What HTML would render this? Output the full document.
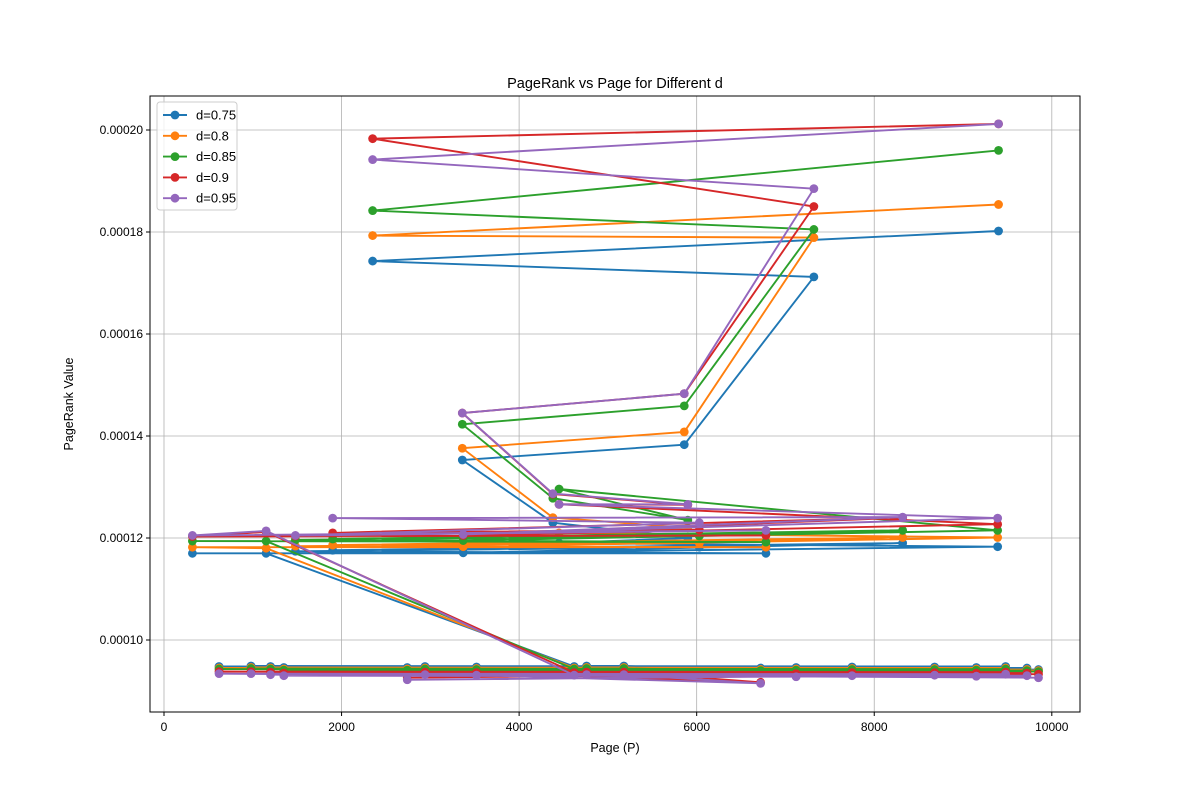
<!DOCTYPE html>
<html><head><meta charset="utf-8"><style>
body{margin:0;background:#fff}
svg{font-family:"Liberation Sans","DejaVu Sans",sans-serif}
</style></head><body>
<svg id="chart" width="1200" height="800">
<rect width="1200" height="800" fill="#fff"/>
<g id="grid"></g>
<g id="series"></g>
<rect x="150" y="96" width="930" height="616" fill="none" stroke="#000" stroke-width="1"/>
<g id="axes"></g>
<text x="615" y="88" text-anchor="middle" font-size="14.5">PageRank vs Page for Different d</text>
<text x="615" y="752" text-anchor="middle" font-size="12.5">Page (P)</text>
<text x="73" y="404" text-anchor="middle" font-size="12.5" transform="rotate(-90 73 404)">PageRank Value</text>
<g id="legend"></g>
</svg>
<script>
const pages = [9850,620,9720,980,9480,1200,9150,1350,8680,2740,7750,2940,7120,3520,6720,5180,4760,4620,
  1150,320,6780,1480,6030,1900,8320,3370,9390,4450,5900,4380,3360,5860,7320,2350,9400];
const seriesNames = ["d=0.75","d=0.8","d=0.85","d=0.9","d=0.95"];
const valsD075 = [94.2,94.8,94.5,94.9,94.8,94.8,94.6,94.6,94.7,94.6,94.7,94.8,94.6,94.7,94.5,94.9,94.9,94.8,
  117.0,117.0,117.0,117.4,118.2,117.6,119.0,117.1,118.3,119.0,120.0,123.0,135.3,138.3,171.2,174.3,180.2];
const valsD08 = [94.0,94.5,94.2,94.6,94.5,94.5,94.3,94.3,94.4,94.3,94.4,94.5,94.3,94.4,94.2,94.6,94.6,94.5,
  118.0,118.2,118.2,118.4,119.0,118.6,120.1,118.3,120.1,121.0,122.0,124.0,137.6,140.8,178.9,179.3,185.4];
const valsD085 = [93.8,94.3,94.0,94.4,94.3,94.3,94.1,94.1,94.2,94.1,94.2,94.3,94.1,94.2,94.0,94.4,94.4,94.3,
  119.4,119.4,119.2,119.6,120.4,119.8,121.5,119.5,121.5,129.6,123.5,127.8,142.3,145.9,180.5,184.2,196.0];
const valsD09 = [93.3,93.8,93.5,93.8,93.7,93.7,93.5,93.5,93.6,92.6,93.6,93.7,93.4,93.6,91.7,93.7,93.7,93.6,
  121.2,120.3,120.5,120.4,121.6,121.0,124.0,120.5,122.7,126.6,126.5,128.6,144.5,148.3,185.0,198.3,201.2];
const valsD095 = [92.6,93.4,93.0,93.4,93.3,93.2,92.9,93.0,93.1,92.2,93.0,93.2,92.8,93.1,91.5,93.2,93.2,93.1,
  121.4,120.5,121.5,120.5,123.0,123.9,124.1,120.7,123.9,126.6,126.6,128.7,144.5,148.3,188.5,194.2,201.2];
const allVals = [valsD075,valsD08,valsD085,valsD09,valsD095];
const colors = ["#1f77b4","#ff7f0e","#2ca02c","#d62728","#9467bd"];
const xTicks = [0,2000,4000,6000,8000,10000];
const xTickLabels = ["0","2000","4000","6000","8000","10000"];
const yTicks = [100,120,140,160,180,200];
const yTickLabels = ["0.00010","0.00012","0.00014","0.00016","0.00018","0.00020"];

const NS="http://www.w3.org/2000/svg";
function xs(p){return 164+p*0.08878;}
function ys(v){return 130+(200-v)*5.1;}
function mk(tag,attrs,parent){const e=document.createElementNS(NS,tag);for(const k in attrs)e.setAttribute(k,attrs[k]);parent.appendChild(e);return e;}
const grid=document.getElementById('grid'),axes=document.getElementById('axes'),ser=document.getElementById('series'),leg=document.getElementById('legend');
xTicks.forEach((t,i)=>{const x=xs(t);
 const g=mk('line',{x1:x,x2:x,y1:96,y2:712,stroke:'#b0b0b0','stroke-width':0.8},grid);
 
 
 const tk=mk('line',{x1:x,x2:x,y1:712,y2:716,stroke:'#000'},axes);
 
 
 const tx=mk('text',{x:x,y:731,'text-anchor':'middle','font-size':12},axes);tx.textContent=xTickLabels[i];
 
 });
yTicks.forEach((t,i)=>{const y=ys(t);
 const g=mk('line',{x1:150,x2:1080,y1:y,y2:y,stroke:'#b0b0b0','stroke-width':0.8},grid);
 
 
 const tk=mk('line',{x1:146,x2:150,y1:y,y2:y,stroke:'#000'},axes);
 
 
 const tx=mk('text',{x:143,y:y+4,'text-anchor':'end','font-size':12},axes);tx.textContent=yTickLabels[i];
 
 });
allVals.forEach((vals,si)=>{
 const g=mk('g',{},ser);
 
 
 const pts=pages.map((p,i)=>xs(p).toFixed(1)+','+ys(vals[i]).toFixed(1)).join(' ');
 const pl=mk('polyline',{points:pts,fill:'none',stroke:colors[si],'stroke-width':1.9},g);
 
 
 pages.forEach((p,i)=>{const c=mk('circle',{cx:xs(p),cy:ys(vals[i]),r:4.4,fill:colors[si]},g);
  
  });
});
const lb=mk('rect',{x:157,y:102,width:80,height:108,rx:3,fill:'#fff','fill-opacity':0.8,stroke:'#ccc'},leg);


seriesNames.forEach((n,i)=>{const y=115+i*20.8;
 const g=mk('g',{},leg);
 
 
 mk('line',{x1:163,x2:187,y1:y,y2:y,stroke:colors[i],'stroke-width':1.9},g);
 mk('circle',{cx:175,cy:y,r:4.4,fill:colors[i]},g);
 const t=mk('text',{x:196,y:y+4.5,'font-size':13},g);t.textContent=n;});
</script>
</body></html>
